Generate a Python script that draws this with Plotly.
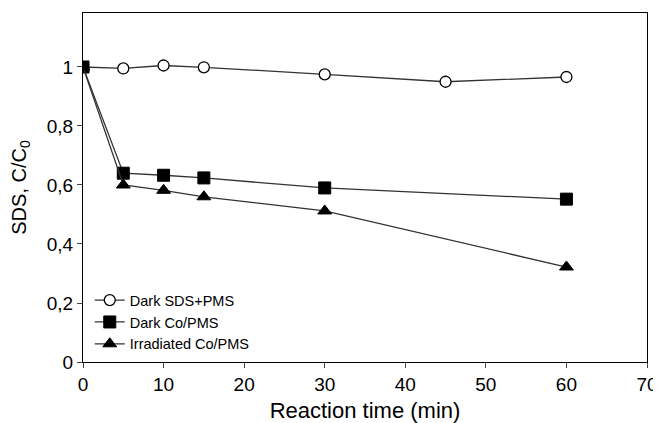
import plotly.graph_objects as go

time_sds = [0, 5, 10, 15, 30, 45, 60]
dark_sds_pms = [1.0, 0.995, 1.005, 0.999, 0.975, 0.950, 0.966]

time_co = [0, 5, 10, 15, 30, 60]
dark_co_pms = [1.0, 0.640, 0.633, 0.624, 0.590, 0.552]
irr_co_pms = [1.0, 0.600, 0.582, 0.560, 0.512, 0.322]

x_ticks = [0, 10, 20, 30, 40, 50, 60, 70]
y_ticks = [0, 0.2, 0.4, 0.6, 0.8, 1]
y_tick_text = ["0", "0,2", "0,4", "0,6", "0,8", "1"]

FONT = "Liberation Sans, Arial, sans-serif"
LINE = "#333333"

fig = go.Figure()
fig.add_trace(go.Scatter(
    x=time_sds, y=dark_sds_pms, name="Dark SDS+PMS", mode="lines+markers",
    line=dict(color=LINE, width=1.3),
    marker=dict(symbol="circle", size=11, color="white", line=dict(color="black", width=1.3)),
))
fig.add_trace(go.Scatter(
    x=time_co, y=dark_co_pms, name="Dark Co/PMS", mode="lines+markers",
    line=dict(color=LINE, width=1.3),
    marker=dict(symbol="square", size=12, color="black", line=dict(color="black", width=1)),
))
fig.add_trace(go.Scatter(
    x=time_co, y=irr_co_pms, name="Irradiated Co/PMS", mode="lines+markers",
    line=dict(color=LINE, width=1.3),
    marker=dict(symbol="triangle-up", size=12, color="black", line=dict(color="black", width=1)),
))

# the page body has an 8px margin, so the figure is sized/offset to compensate
fig.update_layout(
    width=653, height=415,
    margin=dict(l=75, r=14, t=5, b=61, autoexpand=False),
    plot_bgcolor="white", paper_bgcolor="white",
    font=dict(family=FONT, color="black"),
    showlegend=True,
    legend=dict(
        x=0.012, y=0.223, xanchor="left", yanchor="top",
        bgcolor="rgba(0,0,0,0)", font=dict(size=14.5, family=FONT),
        tracegroupgap=0, itemwidth=30,
    ),
    xaxis=dict(
        range=[0, 70], tickvals=x_ticks, ticks="outside", ticklen=5,
        showline=True, linecolor="black", linewidth=1, mirror=True,
        showgrid=False, zeroline=False, automargin=False,
        tickfont=dict(size=19), title=dict(text="Reaction time (min)", font=dict(size=22), standoff=8),
    ),
    yaxis=dict(
        range=[0, 1.183], tickvals=y_ticks, ticktext=y_tick_text, ticks="outside", ticklen=5,
        showline=True, linecolor="black", linewidth=1, mirror=True,
        showgrid=False, zeroline=False, automargin=False,
        tickfont=dict(size=19), title=dict(text="SDS, C/C<sub>0</sub>", font=dict(size=20), standoff=14),
    ),
)

fig.write_html("out.html")
